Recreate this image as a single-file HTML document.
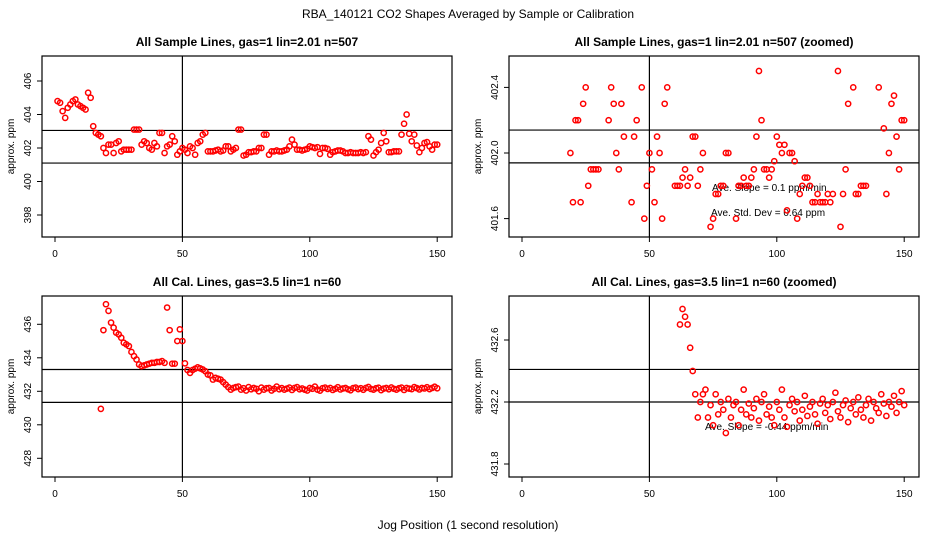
<!DOCTYPE html>
<html><head><meta charset="utf-8"><style>
html,body{margin:0;padding:0;background:#fff;width:936px;height:540px;overflow:hidden;position:relative;}
svg{display:block;position:absolute;left:0;top:0;font-family:"Liberation Sans",sans-serif;overflow:hidden;}
</style></head><body>
<svg id="c" width="936" height="540" viewBox="0 0 936 540">
<text x="468" y="18" text-anchor="middle" font-size="12">RBA_140121  CO2 Shapes Averaged by Sample or Calibration</text>
<text x="468" y="529" text-anchor="middle" font-size="12">Jog Position (1 second resolution)</text>
</svg>
<script>
const sampleVals=[404.8,404.7,404.2,403.8,404.4,404.6,404.8,404.9,404.6,404.5,404.4,404.3,405.3,405.0,403.3,402.9,402.8,402.7,
402.0,401.7,402.2,402.2,401.7,402.3,402.4,401.8,401.9,401.9,401.9,401.9,
403.1,403.1,403.1,402.2,402.4,402.3,402.0,401.9,402.3,402.1,402.9,402.9,401.7,402.1,402.2,
402.7,402.4,401.6,401.8,402.0,401.9,401.7,402.1,402.0,401.6,402.3,402.4,402.8,402.9,401.8,
401.8,401.8,401.85,401.9,401.8,401.85,402.1,402.1,401.8,401.9,402.0,403.1,403.1,401.55,401.6,
401.75,401.75,401.8,401.8,402.0,402.0,402.8,402.8,401.6,401.8,401.8,401.85,401.8,401.8,401.85,
401.9,402.1,402.5,402.2,401.9,401.9,401.85,401.9,401.95,402.1,402.05,402.0,402.05,401.65,402.0,
402.0,401.95,401.6,401.75,401.8,401.85,401.85,401.8,401.7,401.7,401.75,401.7,401.7,401.7,401.75,
401.7,401.75,402.7,402.5,401.55,401.75,401.9,402.3,402.9,402.4,401.75,401.75,401.8,401.8,401.8,
402.8,403.45,404.0,402.85,402.4,402.8,402.15,401.75,402.0,402.3,402.35,402.1,401.9,402.2,402.2];
const sampleStart=1;
const calVals=[430.95,435.65,437.2,436.8,436.1,435.8,435.5,435.4,435.2,434.9,434.8,434.7,434.35,
434.1,433.9,433.6,433.5,433.55,433.6,433.65,433.7,433.7,433.75,433.75,433.8,433.7,437.0,435.65,
433.65,433.65,435.0,435.7,435.0,433.67,433.27,433.1,433.27,433.35,433.43,433.37,433.3,433.2,433.0,
432.95,432.7,432.8,432.75,432.7,432.55,432.4,432.25,432.1,432.2,432.25,432.28,432.1,
432.18,432.05,432.25,432.12,432.2,432.15,432.0,432.22,432.1,432.18,432.2,432.05,432.15,432.28,432.12,432.19,432.1,432.16,432.22,432.08,
432.2,432.25,432.12,432.17,432.1,432.05,432.2,432.15,432.28,432.1,432.04,432.18,432.22,432.14,432.2,432.08,432.15,432.24,432.11,432.17,
432.2,432.12,432.06,432.19,432.22,432.13,432.18,432.09,432.2,432.26,432.14,432.1,432.18,432.21,432.07,432.16,432.2,432.12,432.23,432.15,
432.1,432.18,432.22,432.08,432.2,432.16,432.13,432.25,432.19,432.11,432.2,432.17,432.24,432.13,432.2,432.27,432.18];
const calStart=18;
const xTicks=[0,50,100,150];
const p1Ticks=[398,400,402,404,406];
const p2Ticks=[401.6,402.0,402.4];
const p3Ticks=[428,430,432,434,436];
const p4Ticks=[431.8,432.2,432.6];
const p1H=[403.05,401.1], p2H=[402.14,401.94], p3H=[433.3,431.34], p4H=[432.41,432.2];
const NS='http://www.w3.org/2000/svg';
const svg=document.getElementById('c');
function mk(t,a,p){const e=document.createElementNS(NS,t);for(const k in a)e.setAttribute(k,a[k]);(p||svg).appendChild(e);return e;}
const panels=[
 {id:'p1',x0:42,x1:452,y0:56,y1:237,xz:55,yRef:402,yPx:148,k:16.75,ticks:p1Ticks,h:p1H,vals:sampleVals,start:sampleStart,title:'All Sample Lines, gas=1 lin=2.01 n=507',dec:0},
 {id:'p2',x0:509,x1:919,y0:56,y1:237,xz:522,yRef:402,yPx:153,k:164,ticks:p2Ticks,h:p2H,vals:sampleVals,start:sampleStart,title:'All Sample Lines, gas=1 lin=2.01 n=507 (zoomed)',dec:1,notes:[['Ave. Slope =  0.1  ppm/min',712,191],['Ave. Std. Dev =  0.64  ppm',711,216]]},
 {id:'p3',x0:42,x1:452,y0:296,y1:477,xz:55,yRef:432,yPx:391.3,k:16.75,ticks:p3Ticks,h:p3H,vals:calVals,start:calStart,title:'All Cal. Lines, gas=3.5 lin=1 n=60',dec:0},
 {id:'p4',x0:509,x1:919,y0:296,y1:477,xz:522,yRef:432.2,yPx:402,k:155,ticks:p4Ticks,h:p4H,vals:calVals,start:calStart,title:'All Cal. Lines, gas=3.5 lin=1 n=60 (zoomed)',dec:1,notes:[['Ave. Slope =  -0.44  ppm/min',705,430]]}
];
panels.forEach(p=>{
 const g=mk('g',{});
 
 
 const X=v=>p.xz+2.548*v, Y=v=>p.yPx-(v-p.yRef)*p.k;
 const cp=mk('clipPath',{id:'cl'+p.id},g);mk('rect',{x:p.x0,y:p.y0,width:p.x1-p.x0,height:p.y1-p.y0},cp);
 const t=mk('text',{x:(p.x0+p.x1)/2,y:p.y0-10,'text-anchor':'middle','font-size':'12','font-weight':'bold'},g);t.textContent=p.title;
 
 
 const yl=mk('text',{transform:`translate(${p.x0-28},${(p.y0+p.y1)/2}) rotate(-90)`,'text-anchor':'middle','font-size':'10'},g);yl.textContent='approx. ppm';
 
 
 xTicks.forEach(v=>{mk('line',{x1:X(v),x2:X(v),y1:p.y1,y2:p.y1+5,stroke:'#000'},g);
  const tx=mk('text',{x:X(v),y:p.y1+20,'text-anchor':'middle','font-size':'10'},g);tx.textContent=v;
  
  });
 p.ticks.forEach(v=>{const y=Y(v);mk('line',{x1:p.x0-5,x2:p.x0,y1:y,y2:y,stroke:'#000'},g);
  const ty=mk('text',{transform:`translate(${p.x0-11},${y}) rotate(-90)`,'text-anchor':'middle','font-size':'10'},g);ty.textContent=v.toFixed(p.dec);
  
  });
 const inner=mk('g',{'clip-path':`url(#cl${p.id})`},g);
 p.h.forEach(v=>{const l=mk('line',{x1:p.x0,x2:p.x1,y1:Y(v),y2:Y(v),stroke:'#000','stroke-width':1.2},inner);
  
  });
 const vl=mk('line',{x1:X(50),x2:X(50),y1:p.y0,y2:p.y1,stroke:'#000','stroke-width':1.2},inner);
 
 
 (p.notes||[]).forEach(n=>{const tn=mk('text',{x:n[1],y:n[2],'font-size':'10'},inner);tn.textContent=n[0];
  
  });
 p.vals.forEach((v,i)=>{const c=mk('circle',{cx:X(p.start+i),cy:Y(v),r:2.6,fill:'none',stroke:'#f00','stroke-width':1.5},inner);
  
  });
 const b=mk('rect',{x:p.x0,y:p.y0,width:p.x1-p.x0,height:p.y1-p.y0,fill:'none',stroke:'#000','stroke-width':1.2},g);
 
 
});
</script>
</body></html>
